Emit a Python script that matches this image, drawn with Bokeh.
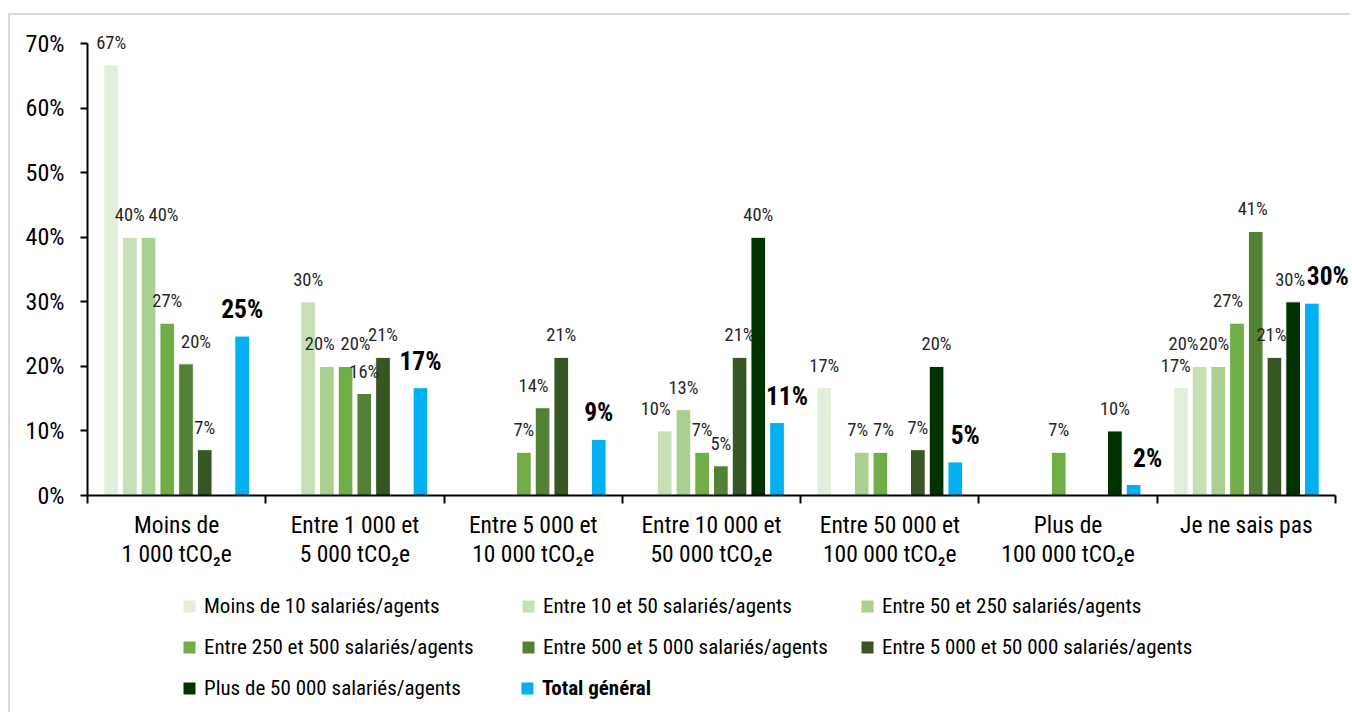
from bokeh.plotting import figure
from bokeh.layouts import column
from bokeh.models import (ColumnDataSource, Range1d, FixedTicker, NumeralTickFormatter,
                          LabelSet, Legend, LegendItem)
from bokeh.core.properties import value
from bokeh.embed import file_html
from bokeh.resources import INLINE

# ---------------- data ----------------
categories = [
    "Moins de\n1 000 tCO\u2082e",
    "Entre 1 000 et\n5 000 tCO\u2082e",
    "Entre 5 000 et\n10 000 tCO\u2082e",
    "Entre 10 000 et\n50 000 tCO\u2082e",
    "Entre 50 000 et\n100 000 tCO\u2082e",
    "Plus de\n100 000 tCO\u2082e",
    "Je ne sais pas",
]

series_names = [
    "Moins de 10 salariés/agents",
    "Entre 10 et 50 salariés/agents",
    "Entre 50 et 250 salariés/agents",
    "Entre 250 et 500 salariés/agents",
    "Entre 500 et 5 000 salariés/agents",
    "Entre 5 000 et 50 000 salariés/agents",
    "Plus de 50 000 salariés/agents",
    "Total général",
]

moins_10 = [0.667, 0.0, 0.0, 0.0, 0.167, 0.0, 0.167]
entre_10_50 = [0.400, 0.300, 0.0, 0.100, 0.0, 0.0, 0.200]
entre_50_250 = [0.400, 0.200, 0.0, 0.133, 0.067, 0.0, 0.200]
entre_250_500 = [0.267, 0.200, 0.067, 0.067, 0.067, 0.067, 0.267]
entre_500_5000 = [0.204, 0.158, 0.136, 0.046, 0.0, 0.0, 0.409]
entre_5000_50000 = [0.071, 0.214, 0.214, 0.214, 0.071, 0.0, 0.214]
plus_50000 = [0.0, 0.0, 0.0, 0.400, 0.200, 0.100, 0.300]
total_general = [0.247, 0.167, 0.087, 0.113, 0.052, 0.017, 0.298]

y_ticks = [0.0, 0.1, 0.2, 0.3, 0.4, 0.5, 0.6, 0.7]

colors = ["#E2EFDA", "#C6E0B4", "#A9D08E", "#70AD47", "#548235", "#375623", "#013301", "#00B0F0"]

all_series = [moins_10, entre_10_50, entre_50_250, entre_250_500,
              entre_500_5000, entre_5000_50000, plus_50000, total_general]

# small horizontal nudges (px) of some value labels, as in the original layout
label_nudge = {(2, 0): 15, (4, 0): 10, (2, 1): -7, (3, 1): 10, (4, 2): -9,
               (1, 3): -9, (7, 3): 10, (2, 4): -4, (3, 4): 3, (7, 4): 10,
               (7, 5): 14, (0, 6): -5, (1, 6): -16, (2, 6): -4, (3, 6): -9,
               (4, 6): -3, (5, 6): -3, (6, 6): -3, (7, 6): 16}

# ---------------- chart ----------------
FONT = "Roboto Condensed, Roboto"
W = 1340
n_cat = len(categories)
PX_PER_CAT = 178.3
x_end = n_cat + (W - 1325) / PX_PER_CAT
p = figure(width=W, height=565, x_range=Range1d(0, x_end), y_range=Range1d(0, 0.725),
           output_backend="svg", toolbar_location=None,
           min_border_left=77, min_border_right=0, min_border_top=12, min_border_bottom=85)
p.xgrid.visible = False
p.ygrid.visible = False
p.outline_line_color = None
p.background_fill_color = "white"
p.border_fill_color = "white"

n_series = len(all_series)
slot = 0.105
bar_w = 0.0825
for i, (vals, col) in enumerate(zip(all_series, colors)):
    idx = [c for c, v in enumerate(vals) if v > 0]
    src = ColumnDataSource(dict(
        x=[c + 0.5 + (i - (n_series - 1) / 2) * slot for c in idx],
        top=[vals[c] for c in idx],
        label=[f"{int(vals[c] * 100 + 0.5)}%" for c in idx],
        dx=[label_nudge.get((i, c), 0) for c in idx],
    ))
    p.vbar(x="x", top="top", width=bar_w, source=src, fill_color=col,
           line_color="white", line_width=1)
    is_total = (i == n_series - 1)
    p.add_layout(LabelSet(x="x", y="top", text="label", source=src,
                          x_offset="dx", y_offset=27 if is_total else 22,
                          text_align="center", text_baseline="middle",
                          text_font=value(FONT),
                          text_font_size="25.5px" if is_total else "18.5px",
                          text_font_style="bold" if is_total else "normal",
                          text_color="#000000" if is_total else "#262626"))

yax = p.yaxis[0]
yax.ticker = FixedTicker(ticks=y_ticks)
yax.formatter = NumeralTickFormatter(format="0%")
yax.bounds = (0, 0.7)
yax.major_tick_in = 0
yax.major_tick_out = 7
yax.minor_tick_line_color = None
yax.axis_line_width = 2
yax.major_tick_line_width = 2
yax.major_label_text_font = FONT
yax.major_label_text_font_size = "24px"
yax.major_label_text_color = "#000000"
yax.major_label_standoff = 16

xax = p.xaxis[0]
xax.bounds = (0, n_cat)
xax.ticker = FixedTicker(ticks=[c + 0.5 for c in range(n_cat)],
                         minor_ticks=list(range(n_cat + 1)))
xax.major_label_overrides = {c + 0.5: categories[c] for c in range(n_cat)}
xax.major_tick_line_color = None
xax.major_tick_in = 0
xax.major_tick_out = 0
xax.minor_tick_in = 0
xax.minor_tick_out = 8
xax.minor_tick_line_color = "#000000"
xax.minor_tick_line_width = 2
xax.axis_line_width = 2
xax.major_label_text_font = FONT
xax.major_label_text_font_size = "23.5px"
xax.major_label_text_color = "#000000"
xax.major_label_text_line_height = 1.04
xax.major_label_standoff = 7

# ---------------- legend strip ----------------
lf = figure(width=W, height=132, x_range=Range1d(0, 1), y_range=Range1d(0, 1),
            output_backend="svg", toolbar_location=None,
            x_axis_location=None, y_axis_location=None,
            min_border_left=0, min_border_right=0, min_border_top=0, min_border_bottom=0)
lf.xgrid.visible = False
lf.ygrid.visible = False
lf.outline_line_color = None
lf.background_fill_color = "white"
lf.border_fill_color = "white"

# swatch renderers for the legend (their single point lies outside the visible range)
swatches = []
for col in colors:
    swatches.append(lf.scatter(x=[-5], y=[-5], marker="square", size=12,
                               fill_color=col, line_color=None))

common = dict(glyph_width=30, glyph_height=30, label_standoff=-6, label_width=298,
              label_height=30, spacing=11, padding=0, margin=0,
              border_line_color=None, background_fill_alpha=0,
              label_text_font=FONT, label_text_font_size="21px",
              label_text_color="#000000")
leg1 = Legend(items=[LegendItem(label=series_names[i], renderers=[swatches[i]]) for i in range(7)],
              ncols=3, orientation="horizontal", location=(87, 9), **common)
leg2 = Legend(items=[LegendItem(label=series_names[7], renderers=[swatches[7]])],
              location=(425, 9), label_text_font_style="bold", **common)
lf.add_layout(leg1)
lf.add_layout(leg2)

layout = column(p, lf, spacing=0,
                styles={"margin-left": "8px", "margin-top": "13px",
                        "border-left": "2px solid #D9D9D9", "border-top": "2px solid #D9D9D9"})

open("out.html", "w").write(file_html(layout, INLINE))
